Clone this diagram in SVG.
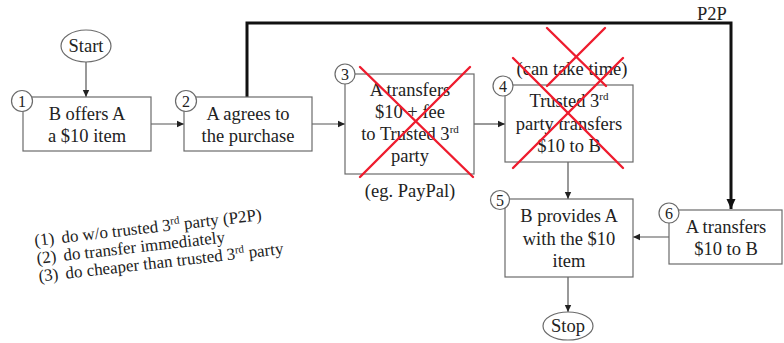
<svg xmlns="http://www.w3.org/2000/svg" width="784" height="343" viewBox="0 0 784 343">
  <style>
    .bg { fill: #ffffff; }
    .box { fill: #ffffff; stroke: #6b6b6b; stroke-width: 1.2; }
    .term { fill: #ffffff; stroke: #6b6b6b; stroke-width: 1.2; }
    .num { fill: #ffffff; stroke: #6b6b6b; stroke-width: 1.2; }
    .t { font-family: "Liberation Serif", "Times New Roman", serif; font-size: 18.5px; fill: #222222; text-anchor: middle; }
    .n { font-family: "Liberation Serif", "Times New Roman", serif; font-size: 16px; fill: #222222; text-anchor: middle; }
    .note { font-family: "Liberation Serif", "Times New Roman", serif; font-size: 17px; fill: #222222; }
    .sup { font-size: 11px; }
    .link { fill: none; stroke: #555555; stroke-width: 1.2; }
    .thick { fill: none; stroke: #111111; stroke-width: 3; }
    .cross { stroke: #ee1c2e; stroke-width: 2.4; stroke-linecap: round; }
  </style>
  <defs>
    <marker id="ah" markerWidth="8" markerHeight="8" refX="7" refY="4" orient="auto" markerUnits="userSpaceOnUse">
      <path d="M0,0.8 L7,4 L0,7.2 Z" fill="#222222"/>
    </marker>
    <marker id="ahBig" markerWidth="12" markerHeight="12" refX="10" refY="6" orient="auto" markerUnits="userSpaceOnUse">
      <path d="M0,1.5 L10,6 L0,10.5 Z" fill="#111111"/>
    </marker>
  </defs>

  <rect class="bg" x="0" y="0" width="784" height="343"/>

  <!-- connectors -->
  <g id="connectors">
    <line class="link" x1="86" y1="62" x2="86" y2="97" marker-end="url(#ah)"/>
    <line class="link" x1="151" y1="124" x2="184" y2="124" marker-end="url(#ah)"/>
    <line class="link" x1="312" y1="124" x2="345" y2="124" marker-end="url(#ah)"/>
    <line class="link" x1="474" y1="124" x2="505" y2="124" marker-end="url(#ah)"/>
    <line class="link" x1="568" y1="162" x2="568" y2="199" marker-end="url(#ah)"/>
    <line class="link" x1="669" y1="237" x2="633" y2="237" marker-end="url(#ah)"/>
    <line class="link" x1="568" y1="277" x2="568" y2="312" marker-end="url(#ah)"/>
    <polyline class="thick" points="247,97 247,23 731,23 731,209" marker-end="url(#ahBig)"/>
    <text class="t" x="712" y="20">P2P</text>
  </g>

  <!-- start / stop -->
  <g id="start">
    <ellipse class="term" cx="86" cy="46" rx="25" ry="16"/>
    <text class="t" x="86" y="52">Start</text>
  </g>
  <g id="stop">
    <ellipse class="term" cx="568" cy="326" rx="25" ry="14"/>
    <text class="t" x="568" y="332">Stop</text>
  </g>

  <!-- step 1 -->
  <g id="step1">
    <rect class="box" x="23" y="97" width="128" height="54"/>
    <text class="t" x="87" y="120">B offers A</text>
    <text class="t" x="87" y="142">a $10 item</text>
    <circle class="num" cx="22" cy="101" r="10.5"/>
    <text class="n" x="22" y="106.5">1</text>
  </g>

  <!-- step 2 -->
  <g id="step2">
    <rect class="box" x="184" y="97" width="128" height="54"/>
    <text class="t" x="248" y="120">A agrees to</text>
    <text class="t" x="248" y="142">the purchase</text>
    <circle class="num" cx="186" cy="101" r="10.5"/>
    <text class="n" x="186" y="106.5">2</text>
  </g>

  <!-- step 3 (crossed out) -->
  <g id="step3">
    <rect class="box" x="345" y="74" width="129" height="100"/>
    <text class="t" x="410" y="96">A transfers</text>
    <text class="t" x="410" y="118">$10 + fee</text>
    <text class="t" x="410" y="140">to Trusted 3<tspan class="sup" dy="-7">rd</tspan></text>
    <text class="t" x="410" y="162">party</text>
    <circle class="num" cx="345" cy="74" r="10"/>
    <text class="n" x="345" y="79.5">3</text>
    <line class="cross" x1="360" y1="67" x2="473" y2="177"/>
    <line class="cross" x1="470" y1="67" x2="360" y2="177"/>
    <text class="t" x="410" y="197">(eg. PayPal)</text>
  </g>

  <!-- step 4 (crossed out) -->
  <g id="step4">
    <rect class="box" x="505" y="85" width="128" height="77"/>
    <text class="t" x="572" y="75">(can take time)</text>
    <text class="t" x="569" y="107">Trusted 3<tspan class="sup" dy="-7">rd</tspan></text>
    <text class="t" x="569" y="130">party transfers</text>
    <text class="t" x="569" y="152">$10 to B</text>
    <circle class="num" cx="503" cy="86" r="10"/>
    <text class="n" x="503" y="91.5">4</text>
    <line class="cross" x1="547" y1="28" x2="606" y2="86"/>
    <line class="cross" x1="605" y1="28" x2="547" y2="86"/>
    <line class="cross" x1="513" y1="58" x2="623" y2="168"/>
    <line class="cross" x1="623" y1="58" x2="513" y2="168"/>
  </g>

  <!-- step 5 -->
  <g id="step5">
    <rect class="box" x="505" y="199" width="128" height="78"/>
    <text class="t" x="569" y="222">B provides A</text>
    <text class="t" x="569" y="245">with the $10</text>
    <text class="t" x="569" y="267">item</text>
    <circle class="num" cx="500" cy="200" r="9.5"/>
    <text class="n" x="500" y="205.5">5</text>
  </g>

  <!-- step 6 -->
  <g id="step6">
    <rect class="box" x="669" y="210" width="113" height="54"/>
    <text class="t" x="726" y="233">A transfers</text>
    <text class="t" x="726" y="255">$10 to B</text>
    <circle class="num" cx="669" cy="213" r="10"/>
    <text class="n" x="669" y="218.5">6</text>
  </g>

  <!-- goals list, set at a slight tilt -->
  <g id="notes" transform="rotate(-6.5 35 245)">
    <text class="note" x="35" y="246">(1)<tspan x="62">do w/o trusted 3</tspan><tspan class="sup" dy="-6">rd</tspan><tspan dy="6"> party (P2P)</tspan></text>
    <text class="note" x="35" y="264">(2)<tspan x="62">do transfer immediately</tspan></text>
    <text class="note" x="35" y="282">(3)<tspan x="62">do cheaper than trusted 3</tspan><tspan class="sup" dy="-6">rd</tspan><tspan dy="6"> party</tspan></text>
  </g>
</svg>
